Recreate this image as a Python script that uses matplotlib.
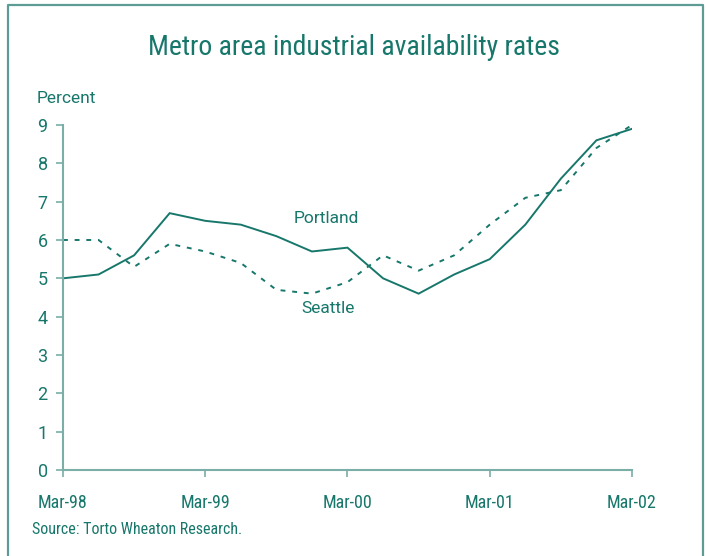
import matplotlib.pyplot as plt

# quarterly data, Mar-98 .. Mar-02
quarters = list(range(17))
portland = [5.0, 5.1, 5.6, 6.7, 6.5, 6.4, 6.1, 5.7, 5.8, 5.0, 4.6, 5.1, 5.5, 6.4, 7.6, 8.6, 8.9]
seattle = [6.0, 6.0, 5.3, 5.9, 5.7, 5.4, 4.7, 4.6, 4.9, 5.6, 5.2, 5.6, 6.4, 7.1, 7.3, 8.4, 9.0]
tick_pos = [0, 4, 8, 12, 16]
tick_labels = ['Mar-98', 'Mar-99', 'Mar-00', 'Mar-01', 'Mar-02']

teal = '#17776b'
axis_col = '#7aaea7'
frame_col = '#5c9c94'
cond = ['Roboto Condensed', 'DejaVu Sans']

plt.rcParams['font.family'] = ['Roboto', 'DejaVu Sans']

fig = plt.figure(figsize=(7.07, 5.56), dpi=100)
ax = fig.add_axes([0.0891, 0.1547, 0.8048, 0.6205])

ax.plot(quarters, portland, color=teal, lw=1.4, solid_joinstyle='miter')
ax.plot(quarters, seattle, color=teal, lw=1.4, linestyle=(0, (2.5, 3.5)))

ax.set_xlim(0, 16)
ax.set_ylim(0, 9)
ax.set_xticks(tick_pos)
ax.set_xticklabels(tick_labels, family=cond)
ax.set_yticks(range(10))

for s in ['top', 'right']:
    ax.spines[s].set_visible(False)
for s in ['left', 'bottom']:
    ax.spines[s].set_color(axis_col)
    ax.spines[s].set_linewidth(1.5)
ax.tick_params(axis='both', colors=axis_col, width=1.2, length=5, labelcolor=teal, labelsize=13)
ax.tick_params(axis='x', pad=12)
ax.tick_params(axis='y', pad=6)

ax.text(7.4, 6.55, 'Portland', color=teal, fontsize=12.5, ha='center', va='center')
ax.text(7.45, 4.2, 'Seattle', color=teal, fontsize=12.5, ha='center', va='center')

fig.text(0.5, 0.915, 'Metro area industrial availability rates', color=teal,
         fontsize=20, ha='center', va='center', family=cond)
fig.text(0.052, 0.822, 'Percent', color=teal, fontsize=12.5, ha='left', va='center')
fig.text(0.045, 0.047, 'Source: Torto Wheaton Research.', color=teal,
         fontsize=11.5, ha='left', va='center', family=cond)

# frame around the figure (no bottom edge)
fig.add_artist(plt.Line2D([0.0113, 0.0113, 0.9943, 0.9943], [0.0, 0.991, 0.991, 0.0],
                          transform=fig.transFigure, color=frame_col, lw=1.6))

fig.savefig('out.png', dpi=100)
